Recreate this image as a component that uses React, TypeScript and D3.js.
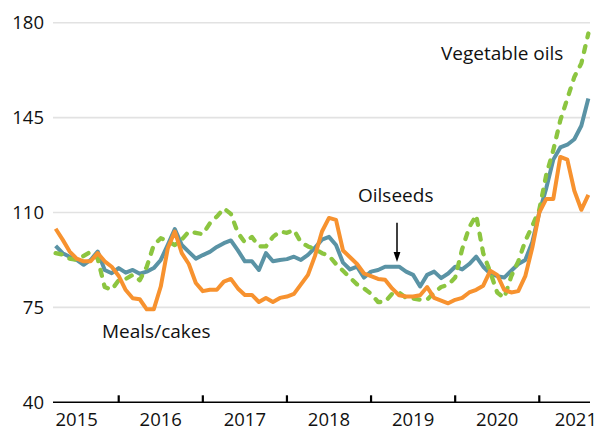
import React from "react";
import * as d3 from "d3";

// Monthly index values, April 2015 – August 2021
const firstMonth = 3; // months counted from January 2015 (3 = April 2015)

const yearLabels = ["2015", "2016", "2017", "2018", "2019", "2020", "2021"];
const yTicks = [40, 75, 110, 145, 180];

const oilseeds = [
  97.7, 95, 93.7, 92.5, 90.7, 92.5, 95.6, 88.8, 87.6, // 2015 Apr-Dec
  89.5, 87.8, 88.8, 87.4, 88.2, 89.5, 92.5, 98.1, 103.9, 98, 95.5, 93, // 2016
  94.3, 95.5, 97.3, 98.7, 99.7, 96, 92, 92, 88.8, 95, 92, 92.5, // 2017
  92.8, 93.7, 92.5, 94.4, 97, 100, 101, 98, 91.5, 89, 90, 86, // 2018
  88.2, 88.8, 90, 90, 90, 88.2, 87, 82.7, 87, 88.2, 85.8, 87.5, // 2019
  90, 89, 91, 93.7, 90, 87.5, 86.5, 86, 88.5, 91, 92.5, 99, // 2020
  110, 119, 129.5, 134, 135, 137, 142, 152, // 2021 Jan-Aug
];

const vegetableOils = [
  95, 94.5, 93, 92.5, 94, 95.5, 93, 82.5, 81.5,
  85, 85.5, 87, 85, 90, 98, 100.5, 99.5, 98, 100, 103, 102.5,
  102, 106, 108.5, 111.5, 109.5, 102.5, 99, 101, 97.5, 97.5, 101, 103,
  102.5, 103.5, 99, 97.5, 96.5, 95, 94, 91, 88.5, 86, 83.5, 82,
  80, 77, 77, 80, 80.5, 78.5, 78.3, 77.8, 77.8, 80.5, 82.5, 83.3,
  86, 96.5, 104.5, 109, 95, 88, 80.5, 78.5, 86.5, 92, 99.5, 105,
  111, 124, 133, 144, 152, 160, 165, 176,
];

const mealsCakes = [
  104, 100, 95.6, 93, 92, 92, 95, 92, 90,
  86.6, 81.4, 78.4, 78, 74.3, 74.3, 82.7, 96.8, 103, 95, 91, 84,
  81, 81.5, 81.5, 84.5, 85.5, 82, 79.6, 79.6, 77, 78.5, 77, 78.5,
  79, 80, 83.5, 87, 94, 103, 108, 107.3, 96, 93.5, 91, 87.5,
  86.5, 85.5, 85.2, 82, 79.5, 79, 79, 79.5, 82.5, 78.5, 77.5, 76.5,
  77.8, 78.5, 80.5, 81.5, 83, 88.5, 87, 81.5, 80.5, 81, 86.5, 97,
  110, 115, 115, 130.5, 129.5, 118, 111, 116.5,
];

const FONT = "'Open Sans', 'DejaVu Sans', sans-serif";

export default function App() {
  const W = 598;
  const H = 430;
  const plotLeft = 53;
  const plotRight = 590;

  const x = d3.scaleLinear().domain([0, 84]).range([34.6, 623.4]);
  const y = d3.scaleLinear().domain([40, 180]).range([402.3, 22.7]);

  const line = d3
    .line<number>()
    .x((_, i) => x(firstMonth + i))
    .y((d) => y(d));

  const yearTicks = d3.range(1, yearLabels.length).map((k) => k * 12);

  return (
    <svg
      width={W}
      height={H}
      viewBox={`0 0 ${W} ${H}`}
      style={{ position: "absolute", left: 0, top: 0, background: "#fff" }}
    >
      {/* gridlines */}
      {yTicks.slice(1).map((t) => (
        <line
          key={t}
          x1={plotLeft}
          x2={plotRight}
          y1={y(t)}
          y2={y(t)}
          stroke="#e2e2e2"
          strokeWidth={1.6}
        />
      ))}
      {/* y tick labels */}
      {yTicks.map((t) => (
        <text
          key={t}
          x={44}
          y={y(t)}
          dy="0.35em"
          textAnchor="end"
          fontFamily={FONT}
          fontSize={18.5}
          fill="#111"
        >
          {t}
        </text>
      ))}
      {/* x axis */}
      <line
        x1={plotLeft}
        x2={plotRight}
        y1={y(40)}
        y2={y(40)}
        stroke="#000"
        strokeWidth={1.6}
      />
      {yearTicks.map((m) => (
        <line
          key={m}
          x1={x(m)}
          x2={x(m)}
          y1={y(40)}
          y2={y(40) - 7}
          stroke="#000"
          strokeWidth={2.2}
        />
      ))}
      {yearLabels.map((lab, k) => {
        const last = k === yearLabels.length - 1;
        return (
          <text
            key={lab}
            x={last ? W - 1 : x(k * 12 + 6)}
            y={420}
            dy="0.35em"
            textAnchor={last ? "end" : "middle"}
            fontFamily={FONT}
            fontSize={18.5}
            fill="#111"
          >
            {lab}
          </text>
        );
      })}

      {/* series */}
      <path
        d={line(oilseeds) || ""}
        fill="none"
        stroke="#5a93a5"
        strokeWidth={4}
        strokeLinejoin="round"
      />
      <path
        d={line(vegetableOils) || ""}
        fill="none"
        stroke="#8cc540"
        strokeWidth={4.3}
        strokeDasharray="6 9"
        strokeLinecap="round"
        strokeLinejoin="round"
      />
      <path
        d={line(mealsCakes) || ""}
        fill="none"
        stroke="#f7922f"
        strokeWidth={4}
        strokeLinejoin="round"
      />

      {/* annotations */}
      <text x={441} y={60} fontFamily={FONT} fontSize={19} fill="#111">
        Vegetable oils
      </text>
      <text x={358} y={202} fontFamily={FONT} fontSize={19} fill="#111">
        Oilseeds
      </text>
      <line x1={397} x2={397} y1={222.7} y2={254} stroke="#000" strokeWidth={1.5} />
      <path d="M393.6,252 L400.4,252 L397,262 Z" fill="#000" />
      <text x={102} y={338} fontFamily={FONT} fontSize={19} fill="#111">
        Meals/cakes
      </text>
    </svg>
  );
}
